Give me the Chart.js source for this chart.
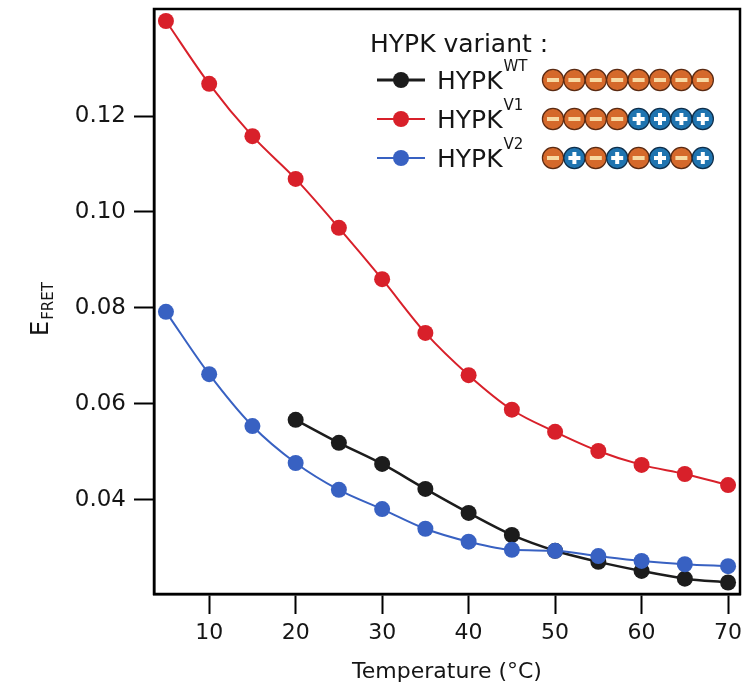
<!DOCTYPE html>
<html>
<head>
<meta charset="utf-8">
<script src="https://cdn.jsdelivr.net/npm/chart.js@4"></script>
<style>
  html, body { margin: 0; padding: 0; background: #fff; }
  #wrap { width: 748px; height: 688px; }
</style>
</head>
<body>
<div id="wrap"><canvas id="chart" width="748" height="688"></canvas></div>
<script>
// temperatures (°C)
const temps = [5, 10, 15, 20, 25, 30, 35, 40, 45, 50, 55, 60, 65, 70];
const tempsWT = [20, 25, 30, 35, 40, 45, 50, 55, 60, 65, 70];

// E_FRET per variant
const efretWT = [0.0567, 0.0519, 0.0475, 0.0423, 0.0373, 0.0327, 0.0294, 0.0271, 0.0252, 0.0236, 0.0228];
const efretV1 = [0.1398, 0.1267, 0.1158, 0.1069, 0.0967, 0.0860, 0.0748, 0.0660, 0.0588, 0.0542, 0.0502, 0.0473, 0.0454, 0.0431];
const efretV2 = [0.0792, 0.0662, 0.0554, 0.0477, 0.0421, 0.0381, 0.0340, 0.0313, 0.0296, 0.0294, 0.0283, 0.0273, 0.0266, 0.0262];

const xTicks = [10, 20, 30, 40, 50, 60, 70];
const yTicks = [0.04, 0.06, 0.08, 0.10, 0.12];

// legend: variant name, charge pattern of the 8 beads
const variantNames = ['WT', 'V1', 'V2'];
const chargePatterns = ['--------', '----++++', '-+-+-+-+'];

const colors = { WT: '#1c1c1c', V1: '#d8202a', V2: '#3861c2' };
const FONT = '"DejaVu Sans", "Liberation Sans", Arial, sans-serif';
const TEXT = '#151515';

const toPoints = (xs, ys) => xs.map((x, i) => ({ x: x, y: ys[i] }));

const frameAndLegend = {
  id: 'frameAndLegend',
  afterDraw(chart) {
    const ctx = chart.ctx;
    const a = chart.chartArea;
    ctx.save();

    // plot frame
    ctx.strokeStyle = '#000';
    ctx.lineWidth = 2.5;
    ctx.strokeRect(a.left, a.top, a.right - a.left, a.bottom - a.top);

    // y title E_FRET
    ctx.save();
    ctx.translate(48, 336);
    ctx.rotate(-Math.PI / 2);
    ctx.fillStyle = TEXT;
    ctx.textBaseline = 'alphabetic';
    ctx.font = '24px ' + FONT;
    ctx.fillText('E', 0, 0);
    const ew = ctx.measureText('E').width;
    ctx.font = '15px ' + FONT;
    ctx.fillText('FRET', ew + 1, 5);
    ctx.restore();

    // legend title
    ctx.fillStyle = TEXT;
    ctx.font = '25px ' + FONT;
    ctx.textBaseline = 'alphabetic';
    ctx.fillText('HYPK variant :', 370, 52);

    const rowsY = [80, 119, 158];
    variantNames.forEach((name, r) => {
      const y = rowsY[r];
      const c = colors[name];
      ctx.strokeStyle = c;
      ctx.lineWidth = r === 0 ? 3 : 2;
      ctx.beginPath();
      ctx.moveTo(377, y);
      ctx.lineTo(425, y);
      ctx.stroke();
      ctx.fillStyle = c;
      ctx.beginPath();
      ctx.arc(401, y, 8, 0, Math.PI * 2);
      ctx.fill();

      ctx.fillStyle = TEXT;
      ctx.font = '25px ' + FONT;
      ctx.fillText('HYPK', 437, y + 9);
      const w = ctx.measureText('HYPK').width;
      ctx.font = '15px ' + FONT;
      ctx.fillText(name, 437 + w + 1, y - 9);

      // charge beads
      const pattern = chargePatterns[r];
      for (let i = 0; i < pattern.length; i++) {
        const cx = 553 + i * 21.4;
        const neg = pattern[i] === '-';
        ctx.fillStyle = neg ? '#d5692b' : '#1f74b0';
        ctx.strokeStyle = neg ? '#5a2a12' : '#0e2e4a';
        ctx.lineWidth = 1.2;
        ctx.beginPath();
        ctx.arc(cx, y, 10.6, 0, Math.PI * 2);
        ctx.fill();
        ctx.stroke();
        ctx.fillStyle = neg ? '#f7d9a2' : '#ffffff';
        ctx.fillRect(cx - 6, y - 2, 12, 4);
        if (!neg) ctx.fillRect(cx - 2, y - 6, 4, 12);
      }
    });

    ctx.restore();
  }
};

const axisTicks = (values) => (scale) => {
  scale.ticks = values.map(v => ({ value: v }));
};

new Chart(document.getElementById('chart').getContext('2d'), {
  type: 'line',
  data: {
    datasets: [
      {
        label: 'HYPK WT',
        data: toPoints(tempsWT, efretWT),
        borderColor: colors.WT,
        backgroundColor: colors.WT,
        borderWidth: 2.5,
        pointRadius: 8,
        pointBorderWidth: 0,
        cubicInterpolationMode: 'monotone',
        order: 1,
      },
      {
        label: 'HYPK V1',
        data: toPoints(temps, efretV1),
        borderColor: colors.V1,
        backgroundColor: colors.V1,
        borderWidth: 2,
        pointRadius: 8,
        pointBorderWidth: 0,
        cubicInterpolationMode: 'monotone',
        order: 2,
      },
      {
        label: 'HYPK V2',
        data: toPoints(temps, efretV2),
        borderColor: colors.V2,
        backgroundColor: colors.V2,
        borderWidth: 2,
        pointRadius: 8,
        pointBorderWidth: 0,
        cubicInterpolationMode: 'monotone',
        order: 0,
      },
    ],
  },
  options: {
    responsive: false,
    animation: false,
    clip: false,
    layout: { padding: { top: 9, right: 7, left: 0, bottom: 0 } },
    plugins: {
      legend: { display: false },
      tooltip: { enabled: false },
    },
    scales: {
      x: {
        type: 'linear',
        min: 3.62,
        max: 71.38,
        afterBuildTicks: axisTicks(xTicks),
        afterFit: (scale) => {
          scale.height = 94;
          scale.paddingLeft = 0;
          scale.paddingRight = 0;
        },
        grid: { drawOnChartArea: false, drawTicks: true, tickLength: 20, tickWidth: 2, tickColor: '#000' },
        border: { display: true, color: '#000', width: 2.5 },
        ticks: {
          color: TEXT,
          font: { family: FONT, size: 22 },
          padding: 6,
          maxRotation: 0,
          callback: (v) => String(v),
        },
        title: {
          display: true,
          text: 'Temperature (°C)',
          color: TEXT,
          font: { family: FONT, size: 22 },
          padding: { top: 2, bottom: 3 },
        },
      },
      y: {
        type: 'linear',
        min: 0.0204,
        max: 0.1423,
        afterBuildTicks: axisTicks(yTicks),
        afterFit: (scale) => {
          scale.width = 154;
          scale.paddingTop = 0;
          scale.paddingBottom = 0;
        },
        grid: { drawOnChartArea: false, drawTicks: true, tickLength: 20, tickWidth: 2, tickColor: '#000' },
        border: { display: true, color: '#000', width: 2.5 },
        ticks: {
          color: TEXT,
          font: { family: FONT, size: 23 },
          padding: 8,
          callback: (v) => v.toFixed(2),
        },
      },
    },
  },
  plugins: [frameAndLegend],
});
</script>
</body>
</html>
